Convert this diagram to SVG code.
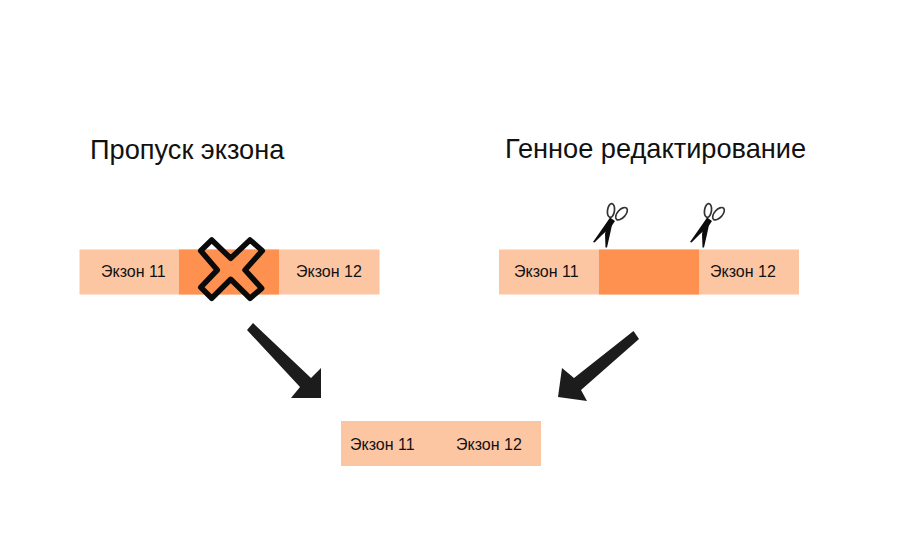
<svg xmlns="http://www.w3.org/2000/svg" width="900" height="555" viewBox="0 0 900 555">
<style>
text{font-family:"Liberation Sans",Arial,sans-serif;fill:#111}
.t{font-size:27.2px}
.e{font-size:16px}
.l{fill:#fdc6a3}
.d{fill:#fe9150}
.s{fill:none;stroke:#333;stroke-width:1.7}
.b{fill:#0c0c0c}
.a{fill:#1c1c1c}
</style>
<defs>
<g id="sc">
<ellipse class="s" cx="18" cy="-31.500" rx="3.500" ry="7" transform="rotate(8 18 -31.500)"/>
<ellipse class="s" cx="28.500" cy="-28.300" rx="4" ry="7.500" transform="rotate(42 28.500 -28.300)"/>
<path class="b" d="M0 0L14 -20L17 -24.500L22 -21L18 -15L9 -7L1.500 0.500Z"/>
<path class="b" d="M12.500 5.500L12 -8L14.500 -19L19.500 -20L17.500 -10L14 5.500Z"/>
</g>
</defs>
<rect width="900" height="555" fill="#fff"/>
<g id="title-left"><text class="t" x="90" y="159">Пропуск экзона</text></g>
<g id="title-right"><text class="t" x="505" y="158">Генное редактирование</text></g>
<g id="left-bar">
<rect class="l" x="79.500" y="249.500" width="300" height="45"/>
<rect class="d" x="179" y="249.500" width="100" height="45"/>
<text class="e" x="101" y="277">Экзон 11</text>
<text class="e" x="296" y="277">Экзон 12</text>
</g>
<g id="cross">
<path d="M211.700 240L230.700 258.300L250 240L262.300 250.700L245 270L261.700 288.300L250 298.300L230.700 279.300L211.700 298.300L200.700 287.300L217.300 270L200.700 250.700Z" fill="none" stroke="#0a0a0a" stroke-width="5.500" stroke-linejoin="round"/>
</g>
<g id="right-bar">
<rect class="l" x="499" y="249.500" width="300" height="45"/>
<rect class="d" x="599" y="249.500" width="100" height="45"/>
<text class="e" x="514" y="277">Экзон 11</text>
<text class="e" x="710" y="277">Экзон 12</text>
</g>
<g id="scissors-1"><use href="#sc" x="593" y="242"/></g>
<g id="scissors-2"><use href="#sc" x="690" y="242"/></g>
<g id="bottom-bar">
<rect class="l" x="341" y="421" width="200" height="45"/>
<text class="e" x="350" y="450">Экзон 11</text>
<text class="e" x="456" y="450">Экзон 12</text>
</g>
<g id="connectors">
<path class="a" d="M253 323L311 378L321 368L321 398L291 398L300 387L247 330Z"/>
<path class="a" d="M633.500 331L639 339L581 390L587 401L558 397L562 368L574 378Z"/>
</g>
</svg>
